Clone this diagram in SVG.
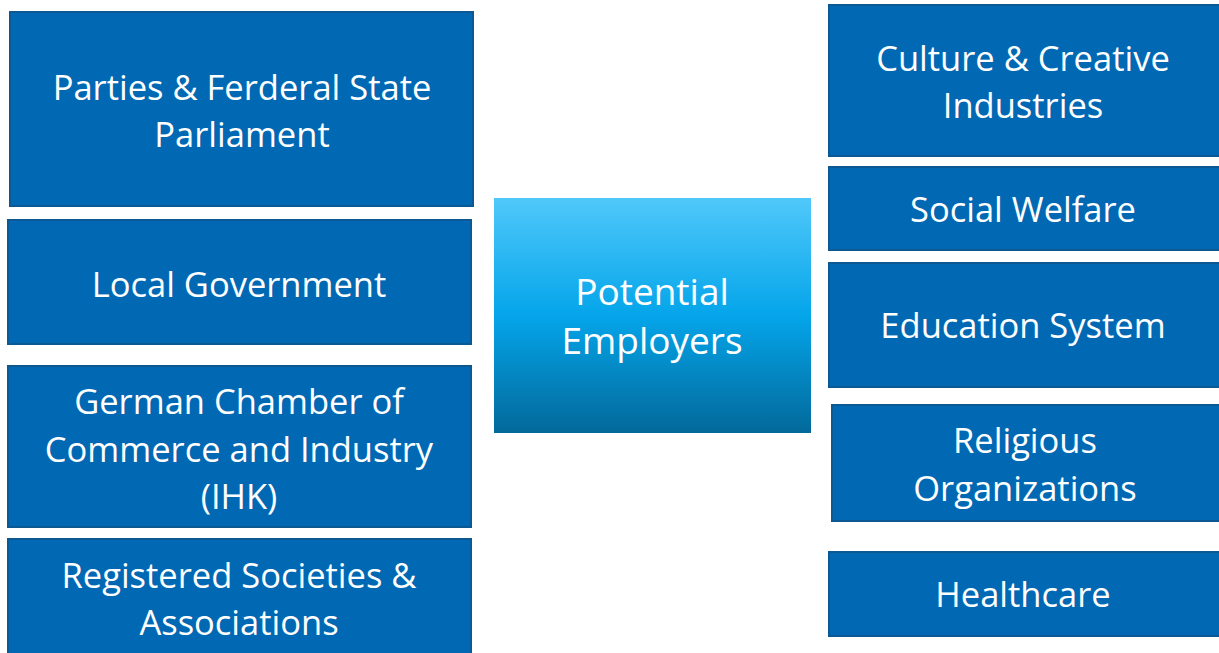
<svg xmlns="http://www.w3.org/2000/svg" width="1219" height="653" viewBox="0 0 1219 653">
<defs>
<linearGradient id="g" x1="0" y1="0" x2="0" y2="1">
<stop offset="0" stop-color="#50C8FA"/>
<stop offset="0.5" stop-color="#04A5EA"/>
<stop offset="1" stop-color="#03699A"/>
</linearGradient>
<style>
.b{fill:#0169B4;stroke:#0C5892;stroke-width:2}
.c{fill:url(#g)}
text{font-family:"Open Sans","Noto Sans","Liberation Sans",sans-serif;font-size:34.5px;fill:#fff;text-anchor:middle}
.big{font-size:37px}
</style>
</defs>
<rect width="1219" height="653" fill="#fff"/>
<g id="connectors"/>
<g id="n1"><rect class="b" x="10" y="12" width="463" height="194"/><text x="242" y="100">Parties &amp; Ferderal State</text><text x="242" y="147">Parliament</text></g>
<g id="n2"><rect class="b" x="8" y="220" width="463" height="124"/><text x="239" y="297">Local Government</text></g>
<g id="n3"><rect class="b" x="8" y="366" width="463" height="161"/><text x="239" y="414">German Chamber of</text><text x="239" y="462">Commerce and Industry</text><text x="239" y="509">(IHK)</text></g>
<g id="n4"><rect class="b" x="8" y="539" width="463" height="120"/><text x="239" y="588">Registered Societies &amp;</text><text x="239" y="635">Associations</text></g>
<g id="center"><rect class="c" x="494" y="198" width="317" height="235"/><text class="big" x="652" y="305">Potential</text><text class="big" x="652" y="354">Employers</text></g>
<g id="r1"><rect class="b" x="829" y="5" width="391" height="151"/><text x="1023" y="71">Culture &amp; Creative</text><text x="1023" y="118">Industries</text></g>
<g id="r2"><rect class="b" x="829" y="167" width="391" height="83"/><text x="1023" y="222">Social Welfare</text></g>
<g id="r3"><rect class="b" x="829" y="263" width="391" height="124"/><text x="1023" y="338">Education System</text></g>
<g id="r4"><rect class="b" x="832" y="405" width="388" height="116"/><text x="1025" y="453">Religious</text><text x="1025" y="501">Organizations</text></g>
<g id="r5"><rect class="b" x="829" y="552" width="391" height="84"/><text x="1023" y="607">Healthcare</text></g>
</svg>
